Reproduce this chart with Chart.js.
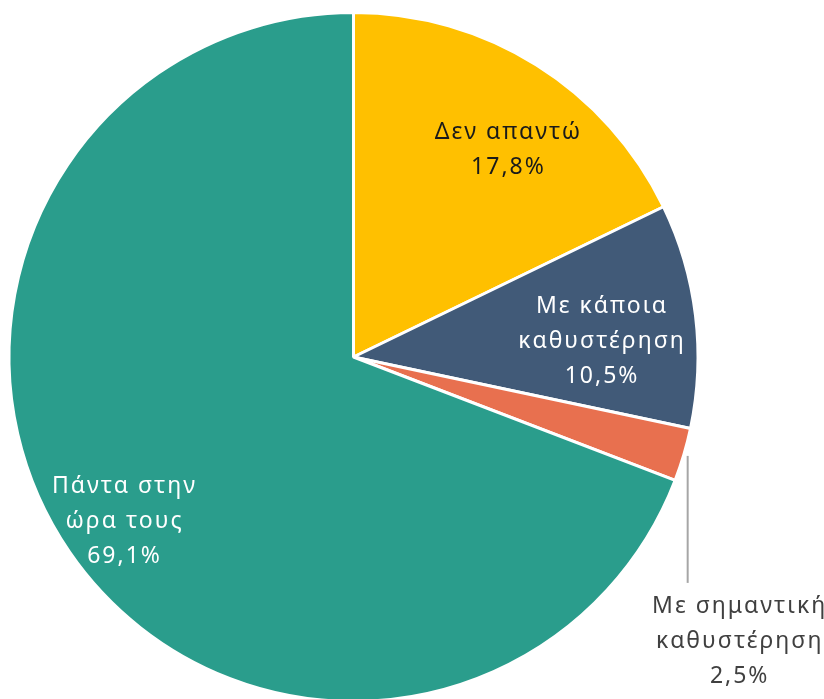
<!DOCTYPE html>
<html>
<head>
<meta charset="utf-8">
<script src="https://cdn.jsdelivr.net/npm/chart.js@4/dist/chart.umd.min.js"></script>
<style>
  html, body { margin: 0; padding: 0; background: #fff; overflow: hidden; }
  #wrap { width: 824px; height: 720px; position: relative; }
</style>
</head>
<body>
<div id="wrap"><canvas id="pie"></canvas></div>
<script>
// ── Data ──────────────────────────────────────────────────────────────────────
const LABELS = [
  ['Δεν απαντώ'],
  ['Με κάποια', 'καθυστέρηση'],
  ['Με σημαντική', 'καθυστέρηση'],
  ['Πάντα στην', 'ώρα τους'],
]
const VALUES = [17.8, 10.5, 2.5, 69.1]
const COLORS = ['#FFC000', '#415A78', '#E8704F', '#2A9D8C']
const TEXT_COLORS = ['#1a1a1a', '#ffffff', '#404040', '#ffffff']
// inside labels: radius fraction + small angle nudge (deg); null = outside label
const LABEL_RADIUS = [0.75, 0.72, null, 0.82]
const LABEL_NUDGE  = [4.5, 3.3, 0, -1]

const FONT = '23px "Noto Sans", sans-serif'
const LINE_H = 35

function fmtPct(v) { return v.toFixed(1).replace('.', ',') + '%' }

// ── Label plugin ──────────────────────────────────────────────────────────────
const sliceLabels = {
  id: 'sliceLabels',
  afterDatasetsDraw(chart) {
    const { ctx } = chart
    const arcs = chart.getDatasetMeta(0).data
    ctx.save()
    ctx.font = FONT
    ctx.letterSpacing = '2px'
    ctx.textAlign = 'center'
    ctx.textBaseline = 'middle'
    arcs.forEach((arc, i) => {
      const { x, y, startAngle, endAngle, outerRadius } = arc.getProps(
        ['x', 'y', 'startAngle', 'endAngle', 'outerRadius'], true)
      const mid = (startAngle + endAngle) / 2
      const lines = [...LABELS[i], fmtPct(VALUES[i])]
      ctx.fillStyle = TEXT_COLORS[i]

      if (LABEL_RADIUS[i] !== null) {
        const a  = mid + LABEL_NUDGE[i] * Math.PI / 180
        const r  = outerRadius * LABEL_RADIUS[i]
        const cx = x + Math.cos(a) * r
        const cy = y + Math.sin(a) * r
        const top = cy - (lines.length - 1) * LINE_H / 2
        lines.forEach((t, k) => ctx.fillText(t, cx + 1, top + k * LINE_H))
      } else {
        // leader line straight down from the slice edge
        const lx = x + Math.cos(mid) * (outerRadius + 4)
        const ly = y + Math.sin(mid) * (outerRadius + 4)
        ctx.strokeStyle = '#a6a6a6'
        ctx.lineWidth = 2
        ctx.beginPath()
        ctx.moveTo(lx, ly)
        ctx.lineTo(lx, ly + 127)
        ctx.stroke()
        const cx = lx + 52
        const top = ly + 151
        lines.forEach((t, k) => ctx.fillText(t, cx, top + k * LINE_H))
      }
    })
    ctx.restore()
  },
}

// ── Chart ─────────────────────────────────────────────────────────────────────
new Chart(document.getElementById('pie'), {
  type: 'pie',
  data: {
    labels: LABELS.map(l => l.join(' ')),
    datasets: [{
      data: VALUES,
      backgroundColor: COLORS,
      borderColor: '#ffffff',
      borderWidth: 3,
    }],
  },
  options: {
    responsive: true,
    maintainAspectRatio: false,
    animation: false,
    layout: { padding: { left: 7, right: 124, top: 11, bottom: 17 } },
    plugins: {
      legend:  { display: false },
      tooltip: { enabled: false },
    },
  },
  plugins: [sliceLabels],
})
</script>
</body>
</html>
